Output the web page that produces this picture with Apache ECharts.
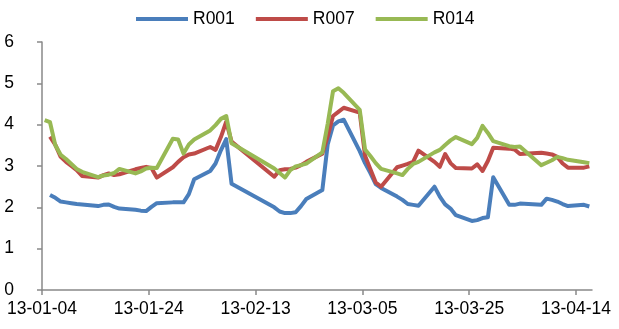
<!DOCTYPE html>
<html>
<head>
<meta charset="utf-8">
<script src="https://cdn.jsdelivr.net/npm/echarts@6/dist/echarts.min.js"></script>
<style>
  html, body { margin: 0; padding: 0; background: #fff; }
  #chart { width: 619px; height: 329px; }
</style>
</head>
<body>
<div id="chart"></div>
<script>
// Interbank repo rates, trading days 2013-01-04 .. 2013-04-16 (yy-mm-dd)
const tradeDates = [
  '13-01-04','13-01-05','13-01-06','13-01-07','13-01-08','13-01-09','13-01-10','13-01-11',
  '13-01-14','13-01-15','13-01-16','13-01-17','13-01-18',
  '13-01-21','13-01-22','13-01-23','13-01-24','13-01-25',
  '13-01-28','13-01-29','13-01-30','13-01-31','13-02-01',
  '13-02-04','13-02-05','13-02-06','13-02-07','13-02-08',
  '13-02-16','13-02-17',
  '13-02-18','13-02-19','13-02-20','13-02-21','13-02-22',
  '13-02-25','13-02-26','13-02-27','13-02-28','13-03-01',
  '13-03-04','13-03-05','13-03-06','13-03-07','13-03-08',
  '13-03-11','13-03-12','13-03-13','13-03-14','13-03-15',
  '13-03-18','13-03-19','13-03-20','13-03-21','13-03-22',
  '13-03-25','13-03-26','13-03-27','13-03-28','13-03-29',
  '13-04-01','13-04-02','13-04-03',
  '13-04-07','13-04-08','13-04-09','13-04-10','13-04-11','13-04-12',
  '13-04-15','13-04-16'
];

const r001 = [
  null, 2.30, 2.23, 2.14, 2.12, 2.10, 2.08, 2.07,
  2.03, 2.06, 2.07, 2.01, 1.97,
  1.94, 1.92, 1.91, 2.01, 2.10,
  2.12, 2.12, 2.12, 2.32, 2.68,
  2.88, 3.06, 3.38, 3.65, 2.57,
  2.00, 1.90,
  1.86, 1.86, 1.88, 2.03, 2.20,
  2.42, 3.52, 3.98, 4.08, 4.12,
  3.36, 3.07, 2.83, 2.56, 2.47,
  2.26, 2.18, 2.08, 2.06, 2.04,
  2.50, 2.26, 2.07, 1.97, 1.81,
  1.67, 1.69, 1.74, 1.76, 2.73,
  2.06, 2.06, 2.09,
  2.06, 2.21, 2.18, 2.14, 2.08, 2.03,
  2.06, 2.02
];

const r007 = [
  null, 3.71, 3.51, 3.22, 3.10, 3.00, 2.90, 2.76,
  2.72, 2.78, 2.82, 2.78, 2.80,
  2.92, 2.95, 2.98, 2.95, 2.72,
  2.97, 3.10, 3.21, 3.28, 3.30,
  3.46, 3.39, 3.70, 4.07, 3.59,
  2.74, 2.90,
  2.92, 2.93, 2.96, 3.02, 3.10,
  3.30, 3.72, 4.21, 4.31, 4.41,
  4.29, 3.25, 2.92, 2.60, 2.50,
  2.97, 3.01, 3.05, 3.10, 3.37,
  3.10, 2.98, 3.29, 3.07, 2.95,
  2.94, 3.04, 2.88, 3.12, 3.44,
  3.42, 3.40, 3.29,
  3.32, 3.30, 3.28, 3.22, 3.06, 2.96,
  2.96, 2.99
];

const r014 = [
  4.11, 4.06, 3.50, 3.27, 3.17, 3.05, 2.93, 2.86,
  2.73, 2.77, 2.79, 2.83, 2.93,
  2.82, 2.87, 2.94, 2.96, 2.95,
  3.66, 3.64, 3.30, 3.52, 3.64,
  3.86, 3.99, 4.14, 4.21, 3.55,
  2.94, 2.83,
  2.72, 2.90, 2.99, 3.02, 3.06,
  3.33, 4.02, 4.81, 4.88, 4.77,
  4.36, 3.40, 3.24, 3.07, 2.93,
  2.82, 2.78, 2.93, 3.05, 3.10,
  3.33, 3.39, 3.51, 3.62, 3.70,
  3.53, 3.68, 3.97, 3.80, 3.60,
  3.48, 3.46, 3.47,
  3.02, 3.08, 3.14, 3.22, 3.19, 3.15,
  3.09, 3.07
];

const seriesNames = ['R001', 'R007', 'R014'];
const seriesColors = ['#4A7EBB', '#BE4B48', '#98B954'];
const axisStart = '13-01-04';   // first day of the date axis
const axisDays = 103;           // length of the date axis in days
const labelStepDays = 20;       // one date label every 20 days
const yTicks = [0, 1, 2, 3, 4, 5, 6];

const DAY = 86400000;
function parseYMD(s) {
  const [y, m, d] = s.split('-').map(Number);
  return Date.UTC(2000 + y, m - 1, d);
}
const t0 = parseYMD(axisStart);
function dayIndex(s) { return Math.round((parseYMD(s) - t0) / DAY); }
function fmtDay(v) {
  const dt = new Date(t0 + v * DAY);
  const p = n => String(n).padStart(2, '0');
  return p(dt.getUTCFullYear() % 100) + '-' + p(dt.getUTCMonth() + 1) + '-' + p(dt.getUTCDate());
}

// each value is placed in the middle of its day slot on the date axis
function toPoints(vals) {
  const pts = [];
  tradeDates.forEach((d, i) => {
    if (vals[i] != null) pts.push([dayIndex(d) + 0.5, vals[i]]);
  });
  return pts;
}

const labelDays = [];
for (let v = 0; v <= axisDays; v += labelStepDays) labelDays.push(v);

const FONT = '"Liberation Sans", Arial, sans-serif';
const AXIS_COLOR = '#898989';

const chart = echarts.init(document.getElementById('chart'), null, { renderer: 'canvas' });
chart.setOption({
  animation: false,
  backgroundColor: '#fff',
  textStyle: { fontFamily: FONT },
  legend: {
    left: 136,
    top: 10,
    padding: 0,
    icon: 'rect',
    itemWidth: 52,
    itemHeight: 4,
    itemGap: 21,
    textStyle: { fontSize: 17.5, color: '#000', fontFamily: FONT },
    data: seriesNames
  },
  grid: { left: 42, right: 27, top: 42, bottom: 39, containLabel: false },
  xAxis: {
    type: 'value',
    min: 0,
    max: axisDays,
    interval: labelStepDays,
    splitLine: { show: false },
    axisLine: { show: true, lineStyle: { color: AXIS_COLOR, width: 1.5 } },
    axisTick: { show: true, length: 5, customValues: labelDays, lineStyle: { color: AXIS_COLOR, width: 1.5 } },
    axisLabel: {
      customValues: labelDays,
      formatter: v => fmtDay(v),
      fontSize: 17.5, color: '#000', margin: 10, fontFamily: FONT
    }
  },
  yAxis: {
    type: 'value',
    min: yTicks[0],
    max: yTicks[yTicks.length - 1],
    interval: 1,
    splitLine: { show: false },
    axisLine: { show: true, lineStyle: { color: AXIS_COLOR, width: 1.5 } },
    axisTick: { show: true, length: 5, lineStyle: { color: AXIS_COLOR, width: 1.5 } },
    axisLabel: { fontSize: 17.5, color: '#000', margin: 28, fontFamily: FONT }
  },
  series: [r001, r007, r014].map((vals, i) => ({
    name: seriesNames[i],
    type: 'line',
    data: toPoints(vals),
    symbol: 'none',
    showSymbol: false,
    color: seriesColors[i],
    itemStyle: { color: seriesColors[i] },
    lineStyle: { color: seriesColors[i], width: 4, cap: 'butt', join: 'round' }
  }))
});
</script>
</body>
</html>
